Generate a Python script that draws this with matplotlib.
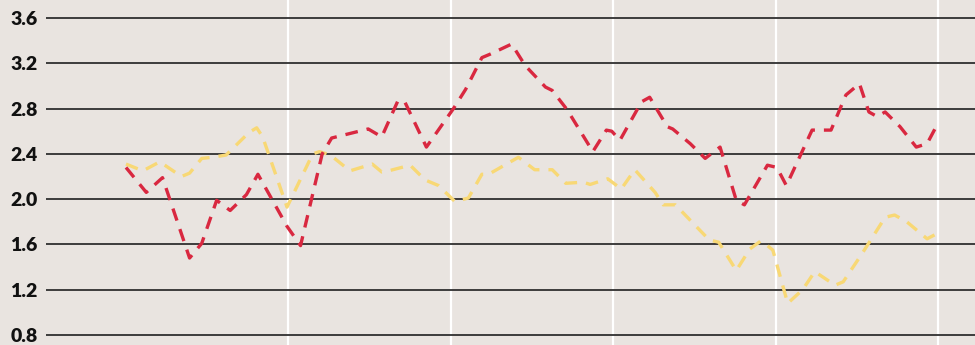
import matplotlib
matplotlib.use("Agg")
import matplotlib.pyplot as plt

# Two monthly-ish series over five years (x in months from start)
red_months = [0.0, 1.5, 2.7, 4.7, 5.6, 6.7, 7.7, 8.9, 9.75, 10.5, 11.9, 12.9, 14.5, 15.2,
              16.55, 17.9, 18.9, 20.1, 20.6, 22.2, 24.2, 25.1, 26.3, 26.9, 28.5, 29.5,
              31.0, 31.5, 32.6, 34.5, 35.5, 35.9, 36.5, 38.1, 38.7, 40.0, 40.4, 41.7,
              42.8, 43.9, 45.1, 45.7, 47.4, 48.1, 48.8, 50.7, 52.1, 53.2, 54.2, 54.9,
              55.5, 56.1, 57.2, 58.4, 59.2, 60.0]
red_values = [2.28, 2.06, 2.19, 1.48, 1.61, 1.99, 1.90, 2.04, 2.22, 2.06, 1.76, 1.59, 2.40, 2.54,
              2.58, 2.62, 2.55, 2.87, 2.86, 2.46, 2.80, 2.97, 3.25, 3.28, 3.37, 3.18,
              2.99, 2.96, 2.79, 2.42, 2.61, 2.60, 2.52, 2.86, 2.90, 2.64, 2.62, 2.49,
              2.36, 2.46, 1.99, 1.95, 2.30, 2.28, 2.12, 2.61, 2.61, 2.92, 3.02, 2.77,
              2.73, 2.77, 2.64, 2.46, 2.49, 2.67]

yellow_months = [0.0, 1.25, 2.5, 4.1, 4.7, 5.6, 6.4, 7.4, 9.1, 9.66, 10.1, 11.9, 13.8, 14.3,
                 15.1, 16.55, 18.2, 18.9, 19.4, 21.0, 22.1, 23.1, 24.3, 25.3, 26.3, 26.8,
                 29.0, 30.2, 31.5, 32.5, 33.8, 34.3, 35.6, 36.6, 37.6, 39.1, 39.7, 40.6,
                 43.1, 43.8, 45.1, 46.1, 46.9, 47.4, 47.8, 48.9, 50.0, 50.9, 52.4, 53.0,
                 54.4, 56.1, 56.8, 57.7, 59.2, 60.0]
yellow_values = [2.31, 2.25, 2.33, 2.20, 2.23, 2.36, 2.37, 2.39, 2.59, 2.63, 2.55, 1.93, 2.40, 2.42,
                 2.39, 2.25, 2.31, 2.24, 2.25, 2.30, 2.17, 2.12, 1.98, 2.01, 2.22, 2.22,
                 2.37, 2.26, 2.26, 2.14, 2.15, 2.13, 2.18, 2.09, 2.26, 2.06, 1.95, 1.95,
                 1.64, 1.62, 1.37, 1.56, 1.63, 1.59, 1.55, 1.08, 1.20, 1.36, 1.24, 1.27,
                 1.52, 1.84, 1.86, 1.80, 1.65, 1.70]

y_ticks = [0.8, 1.2, 1.6, 2.0, 2.4, 2.8, 3.2, 3.6]
y_tick_labels = ["0.8", "1.2", "1.6", "2.0", "2.4", "2.8", "3.2", "3.6"]
x_ticks = [12, 24, 36, 48, 60]

BG = "#e9e4e0"
RED = "#d92840"
YELLOW = "#f8d875"

fig = plt.figure(figsize=(9.75, 3.45), dpi=100, facecolor=BG)
ax = fig.add_axes([46 / 975, 0, 1 - 46 / 975, 1])
ax.set_facecolor(BG)

ax.set_xlim(-5.91, 62.74)
ax.set_ylim(0.712, 3.759)

for yv in y_ticks:
    ax.axhline(yv, color="#363636", lw=1.35, zorder=1)
for xv in x_ticks:
    ax.axvline(xv, color="white", lw=1.6, zorder=0.5)

ax.plot(yellow_months, yellow_values, color=YELLOW, lw=2.4, dashes=(3.8, 2.7), zorder=3)
ax.plot(red_months, red_values, color=RED, lw=2.4, dashes=(3.8, 2.7), zorder=4)

ax.set_yticks(y_ticks)
ax.set_yticklabels(y_tick_labels, fontfamily="Lato", fontweight="heavy",
                   fontsize=14, color="#111111")
ax.tick_params(axis="y", length=0, pad=6)
ax.set_xticks([])
for s in ax.spines.values():
    s.set_visible(False)

fig.savefig("out.png", dpi=100, facecolor=BG)
